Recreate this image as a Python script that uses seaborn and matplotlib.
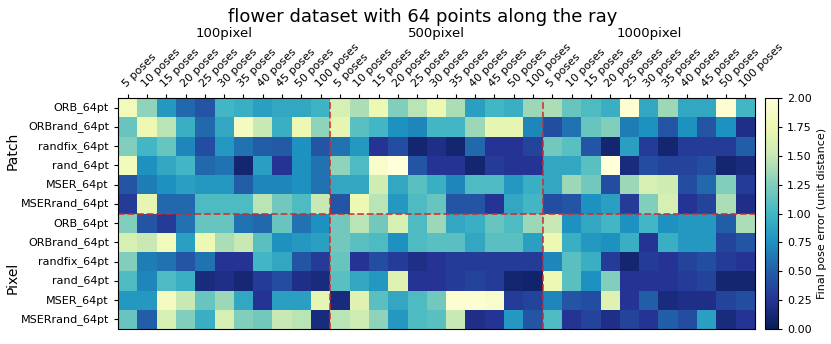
import numpy as np
import pandas as pd
import seaborn as sns
import matplotlib
matplotlib.use("Agg")
import matplotlib.pyplot as plt

methods = ["ORB_64pt", "ORBrand_64pt", "randfix_64pt", "rand_64pt", "MSER_64pt", "MSERrand_64pt"]
row_groups = ["Patch", "Pixel"]
pose_counts = ["5 poses", "10 poses", "15 poses", "20 poses", "25 poses", "30 poses",
               "35 poses", "40 poses", "45 poses", "50 poses", "100 poses"]
resolutions = ["100pixel", "500pixel", "1000pixel"]

# final pose error, rows = Patch methods then Pixel methods
err_100px = [
    [1.80, 1.30, 0.80, 0.55, 0.45, 1.00, 0.95, 0.85, 0.90, 0.90, 0.98],
    [1.15, 1.75, 1.45, 0.95, 0.55, 0.90, 1.85, 1.50, 0.95, 1.75, 1.30],
    [1.25, 1.00, 1.15, 0.70, 0.40, 0.80, 0.60, 0.50, 0.48, 0.75, 0.45],
    [1.80, 0.75, 0.90, 1.00, 0.55, 0.60, 0.10, 0.85, 0.25, 0.75, 0.60],
    [0.45, 0.65, 0.75, 0.85, 0.80, 0.80, 0.50, 0.70, 0.70, 0.75, 0.60],
    [0.30, 1.70, 0.55, 0.55, 1.05, 1.05, 1.05, 1.45, 1.20, 1.05, 1.50],
    [1.25, 0.45, 0.30, 0.60, 1.15, 1.15, 0.60, 0.55, 1.15, 0.60, 0.75],
    [1.60, 1.50, 1.80, 0.85, 1.75, 1.40, 1.50, 1.10, 0.75, 0.80, 0.85],
    [1.25, 0.65, 0.60, 0.45, 0.60, 0.25, 0.25, 1.00, 0.90, 0.45, 0.30],
    [1.05, 0.70, 1.05, 0.95, 0.15, 0.20, 0.12, 0.30, 0.40, 0.20, 0.15],
    [0.80, 0.80, 1.85, 1.50, 1.15, 1.35, 0.90, 0.25, 0.85, 0.85, 1.70],
    [1.15, 0.50, 1.60, 1.25, 0.95, 1.60, 1.25, 1.20, 1.50, 1.45, 0.15],
]
err_500px = [
    [1.60, 1.40, 1.75, 1.25, 1.45, 1.75, 1.40, 0.85, 1.00, 0.95, 1.35],
    [1.70, 1.10, 1.00, 0.75, 0.70, 1.00, 1.00, 1.35, 1.70, 1.70, 0.70],
    [0.60, 0.80, 0.25, 0.40, 0.10, 0.20, 0.10, 0.55, 0.25, 0.25, 0.35],
    [1.30, 1.05, 1.90, 2.00, 0.45, 0.25, 0.25, 0.10, 0.30, 0.25, 0.25],
    [0.90, 0.90, 1.55, 0.90, 1.10, 0.95, 0.70, 1.05, 1.05, 0.80, 0.95],
    [0.45, 1.75, 1.45, 0.80, 1.05, 1.15, 0.45, 0.45, 0.25, 0.90, 1.00],
    [1.20, 1.45, 1.20, 1.60, 1.05, 1.35, 0.90, 0.95, 1.15, 1.05, 1.35],
    [1.20, 1.10, 1.05, 0.75, 1.05, 1.10, 1.10, 0.90, 1.10, 1.10, 0.85],
    [1.15, 0.25, 0.40, 0.30, 0.20, 0.25, 0.30, 0.30, 0.30, 0.30, 0.30],
    [1.10, 0.90, 0.80, 1.65, 0.25, 0.25, 0.30, 0.35, 0.30, 0.10, 0.08],
    [0.15, 1.65, 1.10, 0.90, 1.05, 1.20, 1.95, 1.95, 1.90, 0.30, 0.35],
    [1.45, 1.55, 1.30, 0.80, 1.05, 1.10, 1.50, 0.20, 0.25, 0.80, 0.45],
]
err_1000px = [
    [1.40, 1.15, 1.05, 0.95, 1.95, 0.90, 1.35, 0.90, 0.90, 1.95, 1.00],
    [0.40, 0.60, 1.15, 1.25, 0.65, 0.75, 0.45, 0.75, 0.45, 0.75, 0.20],
    [1.20, 1.10, 0.45, 0.10, 0.85, 0.30, 0.10, 0.30, 0.30, 0.30, 0.50],
    [0.90, 0.90, 1.10, 2.00, 0.15, 0.40, 0.35, 0.35, 0.40, 0.10, 0.15],
    [0.90, 1.35, 1.20, 0.40, 1.35, 1.60, 1.55, 0.40, 0.55, 1.25, 0.30],
    [0.40, 0.45, 0.75, 0.85, 0.30, 1.25, 1.60, 0.25, 0.35, 1.40, 0.20],
    [1.50, 0.75, 0.90, 1.00, 0.75, 1.00, 0.75, 0.80, 0.80, 0.50, 1.40],
    [1.75, 0.95, 0.80, 0.75, 0.95, 0.25, 0.95, 0.80, 0.80, 0.35, 0.45],
    [0.70, 1.10, 0.95, 0.30, 0.10, 0.30, 0.25, 0.35, 0.40, 0.30, 0.25],
    [1.75, 1.10, 0.75, 1.25, 0.25, 0.25, 0.25, 0.30, 0.35, 0.10, 0.10],
    [0.70, 0.45, 0.40, 1.65, 0.25, 0.50, 0.15, 0.20, 0.20, 0.35, 0.40],
    [1.05, 0.25, 0.35, 0.20, 0.35, 0.25, 0.50, 0.40, 0.85, 0.15, 0.25],
]

data = np.hstack([np.array(err_100px), np.array(err_500px), np.array(err_1000px)])
row_labels = methods * len(row_groups)
col_labels = pose_counts * len(resolutions)
df = pd.DataFrame(data, index=row_labels, columns=col_labels)

W, H = 831, 344
fig = plt.figure(figsize=(W / 100, H / 100), dpi=100)
ax = fig.add_axes([118 / W, 1 - 329 / H, 637 / W, 231 / H])
cax = fig.add_axes([765 / W, 1 - 329 / H, 13 / W, 231 / H])

sns.heatmap(df, ax=ax, cbar_ax=cax, cmap="YlGnBu_r", vmin=0, vmax=2,
            xticklabels=True, yticklabels=True)

# frame like plain imshow
for sp in ax.spines.values():
    sp.set_visible(True)
    sp.set_color("black")
    sp.set_linewidth(0.8)

ax.xaxis.tick_top()
ax.set_xticklabels(col_labels, rotation=45, ha="left", rotation_mode="anchor", fontsize=8)
ax.set_yticklabels(row_labels, rotation=0, fontsize=8)
ax.tick_params(axis="both", length=3, width=0.8)

# group separators
n_cols = len(pose_counts)
n_rows = len(methods)
for k in range(1, len(resolutions)):
    ax.axvline(k * n_cols, color="#d62728", ls="--", lw=1.3, alpha=0.85)
for k in range(1, len(row_groups)):
    ax.axhline(k * n_rows, color="#d62728", ls="--", lw=1.3, alpha=0.85)

# group labels
for k, res in enumerate(resolutions):
    fig.text((118 + (k * n_cols + n_cols / 2) * 637 / 33) / W, 1 - 33 / H, res,
             ha="center", va="center", fontsize=9.5)
fig.text(13 / W, 1 - 151 / H, row_groups[0], rotation=90, ha="center", va="center", fontsize=10)
fig.text(13 / W, 1 - 278 / H, row_groups[1], rotation=90, ha="center", va="center", fontsize=10)

fig.text(423 / W, 1 - 17 / H, "flower dataset with 64 points along the ray",
         ha="center", va="center", fontsize=13)

cb = ax.collections[0].colorbar
cb.set_ticks([0, 0.25, 0.5, 0.75, 1.0, 1.25, 1.5, 1.75, 2.0])
cb.ax.tick_params(labelsize=8, length=3)
cb.set_label("Final pose error (unit distance)", fontsize=8)
cb.outline.set_visible(True)
cb.outline.set_linewidth(0.8)

fig.savefig("out.png", dpi=100)
